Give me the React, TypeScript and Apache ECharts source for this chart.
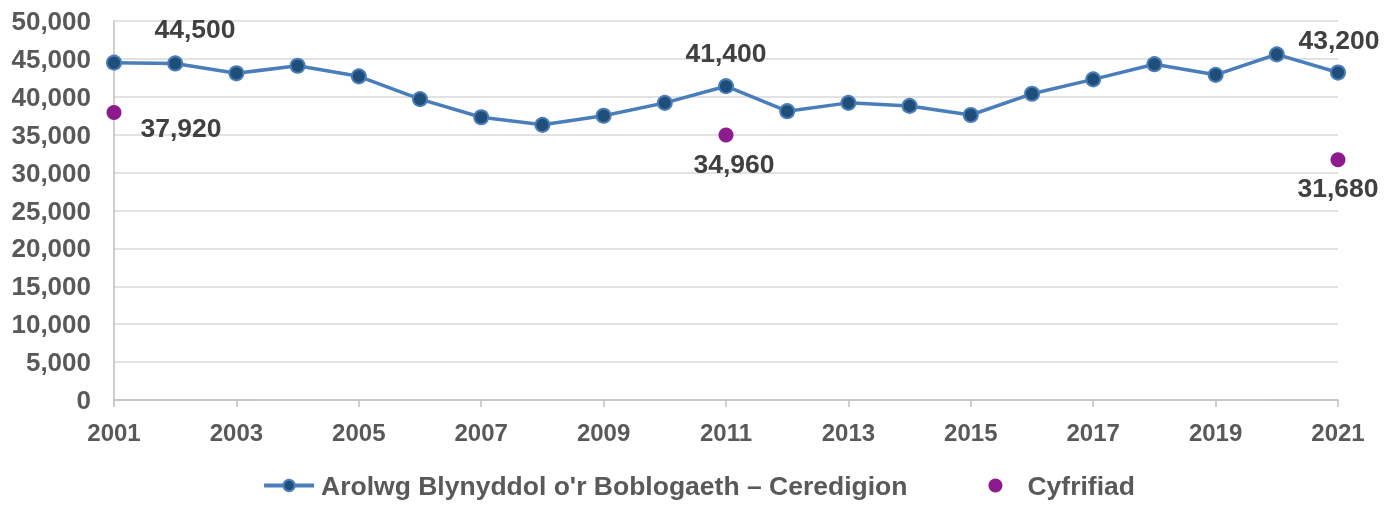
import React, { useEffect, useRef } from "react";
import * as echarts from "echarts";

const years = ["2001","2002","2003","2004","2005","2006","2007","2008","2009","2010","2011","2012","2013","2014","2015","2016","2017","2018","2019","2020","2021"];
const apsValues = [44500, 44400, 43100, 44100, 42700, 39700, 37300, 36300, 37500, 39200, 41400, 38100, 39200, 38800, 37600, 40400, 42300, 44300, 42900, 45600, 43200];
const censusValues: (number | null)[] = [37920, null, null, null, null, null, null, null, null, null, 34960, null, null, null, null, null, null, null, null, null, 31680];
const yTicks = { min: 0, max: 50000, interval: 5000 };
const seriesNames = ["Arolwg Blynyddol o'r Boblogaeth \u2013 Ceredigion", "Cyfrifiad"];

const FONT = "'Liberation Sans', Arial, Helvetica, sans-serif";
const fmt = (v: number) => v.toLocaleString("en-US");

export default function App() {
  const ref = useRef<HTMLDivElement>(null);
  useEffect(() => {
    if (!ref.current) return;
    const chart = echarts.init(ref.current, undefined, { renderer: "svg" });
    const labelStyle = { fontFamily: FONT, fontWeight: "bold" as const, fontSize: 26.5, color: "#404040" };
    const apsLabelOffsets: Record<number, [number, number]> = { 0: [81, -34], 10: [0, -33], 20: [1, -33] };
    const censusLabelOffsets: Record<number, [number, number]> = { 0: [67, 15], 10: [8, 29], 20: [0, 28] };
    const apsData = apsValues.map((v, i) => {
      const off = apsLabelOffsets[i];
      return off
        ? { value: v, label: { show: true, position: "inside", offset: off, formatter: (p: any) => fmt(p.value), ...labelStyle } }
        : { value: v };
    });
    const censusData = censusValues.map((v, i) => {
      const off = censusLabelOffsets[i];
      return v != null && off
        ? { value: v, label: { show: true, position: "inside", offset: off, formatter: (p: any) => fmt(p.value), ...labelStyle } }
        : { value: v };
    });
    chart.setOption({
      animation: false,
      grid: { left: 114, right: 59, top: 21, bottom: 105, containLabel: false },
      legend: {
        bottom: 1,
        left: "center",
        itemWidth: 50,
        itemHeight: 14,
        itemGap: 81,
        textStyle: { fontFamily: FONT, fontWeight: "bold", fontSize: 26.5, color: "#595959", padding: [0, 0, 0, 2] },
        data: [
          { name: seriesNames[0], lineStyle: { width: 4 } },
          { name: seriesNames[1], icon: "circle" },
        ],
      },
      xAxis: {
        type: "category",
        data: years,
        boundaryGap: false,
        axisLine: { lineStyle: { color: "#bfbfbf", width: 1.5 } },
        axisTick: { show: true, interval: 1, length: 7, lineStyle: { color: "#bfbfbf", width: 1.5 } },
        axisLabel: { interval: 1, margin: 20, fontFamily: FONT, fontWeight: "bold", fontSize: 24, color: "#595959" },
        splitLine: { show: false },
      },
      yAxis: {
        type: "value",
        min: yTicks.min,
        max: yTicks.max,
        interval: yTicks.interval,
        axisLine: { show: true, lineStyle: { color: "#bfbfbf", width: 1.5 } },
        axisTick: { show: false },
        axisLabel: { margin: 23, fontFamily: FONT, fontWeight: "bold", fontSize: 26, color: "#595959", formatter: (v: number) => fmt(v) },
        splitLine: { lineStyle: { color: "#d9d9d9", width: 1.5 } },
      },
      series: [
        {
          name: seriesNames[0],
          type: "line",
          data: apsData,
          symbol: "circle",
          symbolSize: 14,
          lineStyle: { color: "#4a7ebb", width: 3.5 },
          itemStyle: { color: "#1f4e79", borderColor: "#4a7ebb", borderWidth: 2 },
          z: 3,
        },
        {
          name: seriesNames[1],
          type: "scatter",
          data: censusData,
          symbol: "circle",
          symbolSize: 15,
          itemStyle: { color: "#8e1b8e", opacity: 1 },
          z: 4,
        },
      ],
    });
    return () => chart.dispose();
  }, []);
  return <div ref={ref} style={{ position: "fixed", left: 0, top: 0, width: 1397, height: 505 }} />;
}
